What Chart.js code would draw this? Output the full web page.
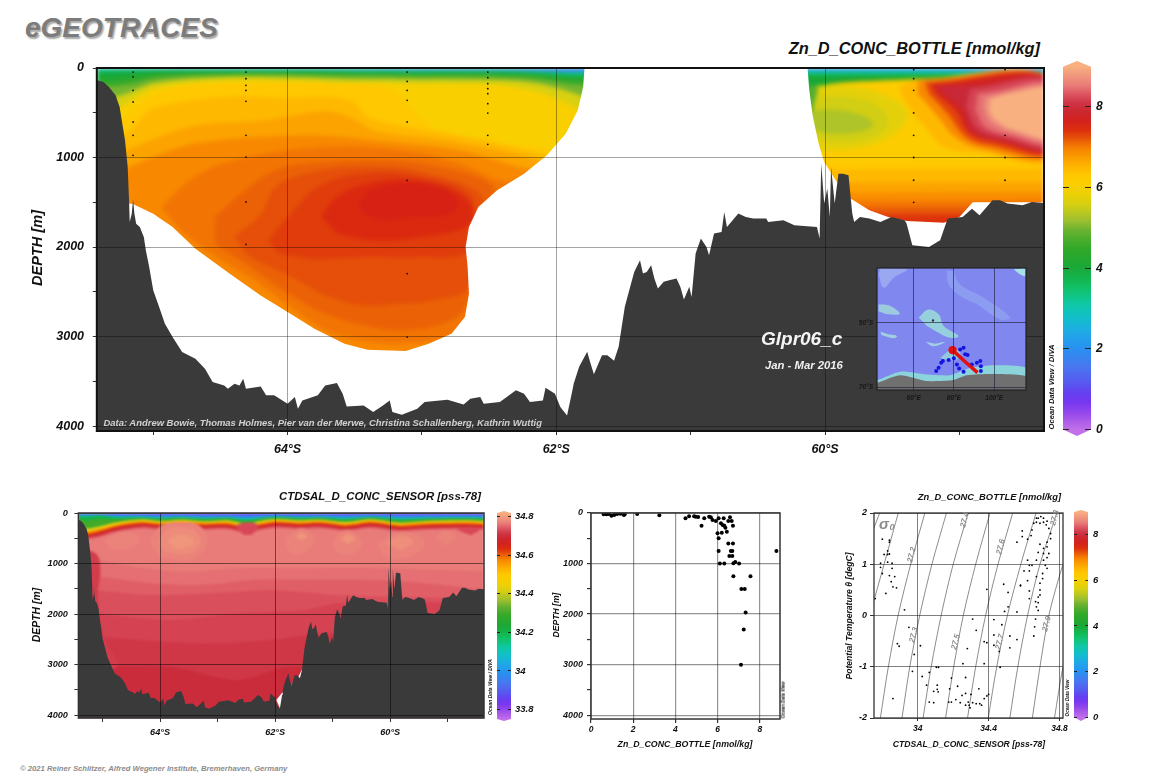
<!DOCTYPE html>
<html>
<head>
<meta charset="utf-8">
<title>eGEOTRACES Zn_D_CONC_BOTTLE</title>
<script src="https://cdn.jsdelivr.net/npm/chart.js@4"></script>
<style>
body { margin: 0; background: #fff; width: 1156px; height: 779px; overflow: hidden; position: relative; font-family: "Liberation Sans", Arial, sans-serif; }
canvas { position: absolute; }
.t { position: absolute; white-space: nowrap; font-weight: bold; font-style: italic; color: #111; line-height: 1; }
</style>
</head>
<body>
<script>
// colour bar stops, in Zn units 0..9
const cmapStops = [0, .25, .58, .83, 1.15, 1.57, 2, 2.4, 2.8, 3.15, 3.55, 4, 4.47, 4.9, 5.2, 5.6, 6, 6.3, 6.5, 6.95, 7.2, 7.5, 8, 8.25, 8.5, 9];
const cmapCols = ['#c070e8', '#a858e8', '#8038f0', '#6838f0', '#5858f0', '#4878f0', '#2890f0', '#20a8e8', '#10c0c8', '#10c8a0', '#10c060', '#18a838', '#30a828', '#60b030', '#a0c030', '#d8d010', '#f8d000', '#ffc800', '#ffb800', '#f88800', '#e85808', '#d82010', '#c82838', '#d84858', '#e87878', '#f8b080'];

// tick lists
const depthTicks = [0, 500, 1000, 1500, 2000, 2500, 3000, 3500, 4000];
const latTicks = [-65, -64, -63, -62, -61, -60, -59];
const znBarTicks = [0, 2, 4, 6, 8];
const salBarTicks = [33.8, 34, 34.2, 34.4, 34.6, 34.8];
const profileTicks = [0, 2, 4, 6, 8];
const tsSalTicks = [34, 34.4, 34.8];
const tsThetaTicks = [-2, -1, 0, 1, 2];
const mapLonTicks = [60, 80, 100];
const mapLatTicks = [-50, -70];

// sea floor along the section [lat, depth]
const bathymetry = [[-65.45,140],[-65.41,140],[-65.37,156],[-65.33,212],[-65.28,305],[-65.25,436],[-65.23,622],[-65.21,808],[-65.19,1106],[-65.18,1479],[-65.175,1721],[-65.16,1628],[-65.15,1467],[-65.14,1628],[-65.127,1739],[-65.1,1777],[-65.07,1888],[-65.055,2037],[-65.03,2223],[-65,2484],[-64.956,2670],[-64.913,2857],[-64.856,3006],[-64.785,3173],[-64.686,3248],[-64.615,3359],[-64.558,3508],[-64.472,3546],[-64.444,3583],[-64.395,3527],[-64.358,3546],[-64.33,3471],[-64.31,3583],[-64.2,3557],[-64.16,3657],[-64.1,3657],[-64,3750],[-63.946,3676],[-63.923,3806],[-63.89,3713],[-63.775,3657],[-63.72,3546],[-63.633,3520],[-63.59,3639],[-63.56,3780],[-63.434,3769],[-63.363,3844],[-63.29,3769],[-63.24,3713],[-63.22,3844],[-63.15,3873],[-63.035,3806],[-62.98,3732],[-62.81,3706],[-62.69,3758],[-62.64,3695],[-62.566,3676],[-62.54,3750],[-62.42,3732],[-62.3,3601],[-62.24,3639],[-62.196,3732],[-62.1,3713],[-62.08,3572],[-62.01,3639],[-61.97,3787],[-61.92,3881],[-61.88,3600],[-61.87,3524],[-61.83,3338],[-61.77,3171],[-61.745,3301],[-61.72,3420],[-61.66,3208],[-61.62,3208],[-61.57,3271],[-61.536,3115],[-61.49,2668],[-61.45,2445],[-61.42,2278],[-61.377,2147],[-61.355,2296],[-61.327,2278],[-61.294,2203],[-61.27,2352],[-61.244,2464],[-61.2,2389],[-61.16,2371],[-61.105,2352],[-61.077,2445],[-61.05,2587],[-61.01,2445],[-60.993,2557],[-60.963,2073],[-60.924,1905],[-60.882,1999],[-60.863,2092],[-60.826,1850],[-60.77,1831],[-60.75,1608],[-60.73,1775],[-60.645,1626],[-60.59,1664],[-60.534,1682],[-60.437,1682],[-60.423,1719],[-60.31,1701],[-60.228,1757],[-60.06,1775],[-60.04,1905],[-60.028,1068],[-60.006,1515],[-59.983,1347],[-59.964,1664],[-59.955,1105],[-59.928,1515],[-59.9,1180],[-59.866,1180],[-59.825,1198],[-59.797,1626],[-59.783,1719],[-59.74,1664],[-59.67,1682],[-59.588,1719],[-59.505,1664],[-59.407,1701],[-59.393,1738],[-59.35,1980],[-59.226,1999],[-59.143,1924],[-59.087,1682],[-58.976,1664],[-58.906,1571],[-58.85,1645],[-58.753,1477],[-58.698,1477],[-58.642,1515],[-58.53,1533],[-58.46,1496],[-58.3,1515]];

// outside of the gridded Zn field (white)
const znMask = [[-65.6,1500],[-65.155,1516],[-65,1628],[-64.856,1776],[-64.686,2019],[-64.43,2298],[-64.2,2540],[-64,2726],[-63.8,2912],[-63.576,3080],[-63.405,3147],[-63.12,3162],[-62.95,3080],[-62.78,2968],[-62.68,2782],[-62.65,2521],[-62.66,2223],[-62.675,2000],[-62.65,1776],[-62.58,1553],[-62.44,1367],[-62.24,1181],[-62.07,976],[-61.93,734],[-61.84,473],[-61.8,212],[-61.79,-5],[-60.13,-5],[-60.117,249],[-60.09,547],[-60.047,845],[-60.006,1049],[-59.92,1254],[-59.81,1459],[-59.67,1589],[-59.53,1664],[-59.39,1708],[-59.115,1730],[-59,1664],[-58.9,1500],[-58.2,1500],[-58.2,4200],[-65.6,4200]];

// Zn levels, left basin: depth of each level along these latitudes
const znLeftLats = [-65.45,-65.28,-65.14,-65,-64.71,-64.43,-64.15,-63.86,-63.58,-63.29,-63.01,-62.72,-62.44,-62.15,-61.87,-61.7];
const znLeftLevels = [2, 3, 3.5, 4, 4.5, 5, 5.6, 6.05];
const znLeftDepths = [
  [0,0,0,0,0,0,0,2,3,5,6,6,6,10,15,15],
  [8,8,8,8,8,10,10,12,14,18,22,20,22,30,45,45],
  [20,20,18,16,16,18,18,20,24,28,32,30,32,42,60,60],
  [50,45,40,32,28,30,30,32,38,42,45,42,45,58,85,85],
  [130,130,100,70,55,55,50,55,60,65,70,65,70,85,125,125],
  [200,200,170,120,85,75,70,75,85,90,95,95,100,120,185,185],
  [320,320,250,170,120,100,100,110,125,125,130,130,135,170,280,400],
  [450,450,340,230,165,140,140,145,165,170,180,180,190,260,430,600]
];
const zn60 = [[-65.45,900],[-65.17,500],[-65,300],[-64.71,190],[-64.43,170],[-63.86,170],[-63.29,200],[-63.15,330],[-63.01,560],[-62.87,690],[-62.44,830],[-62.1,900],[-61.7,1000]];
const zn62 = [[-65.45,1000],[-65.17,700],[-65,450],[-64.43,320],[-64,340],[-63.72,320],[-63.52,370],[-63.4,550],[-63.06,670],[-62.58,800],[-62.15,950],[-61.7,1100]];
const zn64 = [[-65.45,1100],[-65.17,900],[-64.71,650],[-64.15,580],[-63.72,480],[-63.52,560],[-63.35,700],[-62.87,800],[-62.44,920],[-62.15,1020],[-61.7,1200]];
const zn66 = [[-65.45,1300],[-65.17,1100],[-64.71,850],[-63.86,750],[-63.29,820],[-62.72,920],[-62.3,1100],[-61.7,1300]];
const zn68 = [[-64.94,1553],[-64.657,1181],[-64.287,995],[-63.718,883],[-63.15,920],[-62.72,1069],[-62.353,1274],[-62.154,1143],[-62.2,1500],[-62.55,1665],[-62.61,2410],[-62.65,2819],[-62.81,3006],[-63.15,3080],[-63.434,3043],[-63.718,2931],[-63.974,2670],[-64.287,2335],[-64.57,2074],[-64.8,1814]];
const zn70 = [[-64.543,1665],[-64.316,1367],[-64.09,1143],[-63.86,1069],[-63.29,1032],[-62.865,1106],[-62.467,1330],[-62.55,1628],[-62.61,2223],[-62.65,2596],[-62.78,2819],[-63.12,2931],[-63.434,2875],[-63.775,2708],[-64.03,2484],[-64.316,2186],[-64.543,1963]];
const zn72 = [[-64.4,1888],[-64.2,1628],[-64.09,1330],[-63.86,1181],[-63.434,1106],[-62.95,1181],[-62.55,1441],[-62.637,1777],[-62.65,2447],[-62.92,2596],[-63.15,2633],[-63.434,2652],[-63.69,2559],[-63.974,2335],[-64.287,2112]];
const zn74 = [[-64.145,1926],[-63.974,1628],[-63.775,1330],[-63.434,1181],[-63.007,1218],[-62.637,1441],[-62.65,1851],[-62.68,2074],[-63.007,2112],[-63.434,2112],[-63.8,2130],[-64.06,2074]];
const zn76 = [[-63.747,1665],[-63.633,1441],[-63.405,1292],[-63.035,1255],[-62.72,1404],[-62.61,1628],[-62.666,1777],[-63.007,1888],[-63.35,1926],[-63.633,1851]];
const zn78 = [[-63.477,1516],[-63.377,1367],[-63.15,1292],[-62.893,1330],[-62.737,1479],[-62.78,1628],[-63.064,1665],[-63.29,1702],[-63.434,1628]];

// Zn levels, right basin
const znRightSurface = [[2.5,19],[3,33],[3.5,56],[4,78]];
const znRightDeep = [[6.3,1049],[6.5,1143],[6.7,1291],[6.9,1403],[7.05,1496],[7.2,1570],[7.4,1645]];
const zn45r = [[-60.3,250],[-60.117,287],[-60.006,175],[-59.67,119],[-59.115,100],[-58.3,93]];
const zn59r = [[-60.3,230],[-60.09,231],[-59.95,175],[-59.53,138],[-59.254,119],[-58.3,100]];
const zn56p = [[-60.15,212],[-59.894,194],[-59.588,287],[-59.393,473],[-59.45,696],[-59.67,863],[-59.95,919],[-60.06,882],[-60.17,696]];
const zn53p = [[-60.117,324],[-59.866,324],[-59.616,417],[-59.53,603],[-59.644,770],[-59.894,826],[-60.06,770],[-60.13,560]];
const zn50p = [[-60.09,473],[-59.894,473],[-59.7,547],[-59.644,640],[-59.755,715],[-59.95,733],[-60.09,696]];
const zn45p = [[-60.17,212],[-60.06,212],[-60.075,361],[-60.117,547],[-60.2,560]];
const zn62u = [[-59.338,130],[-58.3,108],[-58.3,1012],[-58.837,956],[-59.115,882],[-59.254,659],[-59.393,398],[-59.45,212]];
const zn66u = [[-59.31,138],[-58.3,108],[-58.3,975],[-58.837,901],[-59.03,770],[-59.157,547],[-59.31,287]];
const zn70u = [[-59.254,156],[-58.3,119],[-58.3,938],[-58.78,863],[-58.948,770],[-59.087,510],[-59.226,287]];
const zn74u = [[-59.21,182],[-58.3,127],[-58.3,912],[-58.726,826],[-58.92,733],[-59.03,473],[-59.17,287]];
const zn78u = [[-59.17,205],[-58.865,194],[-58.3,138],[-58.3,889],[-58.7,808],[-58.893,715],[-58.99,435],[-59.115,287]];
const zn81u = [[-58.92,231],[-58.3,156],[-58.3,863],[-58.67,778],[-58.865,677],[-58.948,435]];
const zn84u = [[-58.865,287],[-58.78,268],[-58.3,194],[-58.3,826],[-58.642,752],[-58.81,659],[-58.88,473]];
const zn87u = [[-58.81,324],[-58.3,231],[-58.3,789],[-58.614,715],[-58.767,603],[-58.823,435]];
const zn90u = [[-58.767,342],[-58.642,287],[-58.3,249],[-58.3,763],[-58.587,696],[-58.74,566],[-58.78,454]];

// bottle sample positions of the main section
const stationLats = [-65.15, -64.31, -63.11, -62.51, -59.34, -58.66];
const stationDepths = [
  [45,100,250,380,603,752,976],
  [45,120,194,250,372,752,995,1497,1970],
  [45,150,250,361,603,1255,2298,3006],
  [45,108,175,231,287,398,503,752,853],
  [19,119,249,502,752,1000,1254,1500],
  [19,752,1000,1254]
];

// salinity section
const salWaveLats = [-65.45,-65.29,-65.06,-64.76,-64.32,-64,-63.62,-63.24,-62.83,-62.5,-62.24,-61.98,-61.6,-61.21,-60.77,-60.33,-59.84,-59.37,-58.66,-58.3];
const salWaveLevels = [33.9, 34, 34.1, 34.2, 34.3, 34.4, 34.5, 34.6, 34.68, 34.74, 34.765];
const salWaveDepths = [
  [12,12,12,12,12,12,12,12,12,12,12,12,12,12,12,12,12,12,12,12],
  [30,30,28,45,45,55,50,60,55,70,55,48,55,50,60,50,65,60,55,60],
  [40,45,35,65,65,80,70,85,78,100,80,65,80,72,90,70,95,85,78,85],
  [50,70,50,85,85,100,88,105,95,130,100,80,95,88,115,85,120,105,95,105],
  [100,150,120,125,105,125,105,130,115,165,120,95,115,105,140,100,150,125,115,130],
  [198,298,264,185,126,159,132,165,145,212,152,119,145,132,179,126,192,159,145,165],
  [240,340,295,210,150,180,150,185,170,240,175,140,165,150,200,145,210,180,165,185],
  [280,380,330,240,175,205,175,205,195,270,205,165,190,175,225,170,235,205,190,210],
  [330,430,380,280,215,245,215,245,235,310,245,205,230,215,265,210,275,245,230,250],
  [390,480,440,340,265,295,265,295,285,360,295,255,280,265,315,260,325,295,280,300],
  [430,520,480,380,305,335,305,335,325,400,335,295,320,305,355,300,365,335,320,340]
];
const sal755 = [[-65.45,900],[-65.11,926],[-64.41,1071],[-63.53,1157],[-62.65,1091],[-61.48,1091],[-60.3,1091],[-58.3,1157]];
const sal745 = [[-65.45,1230],[-65.11,1256],[-64.12,1388],[-63.24,1421],[-62.36,1322],[-61.48,1322],[-60.6,1322],[-59.72,1355],[-58.3,1521]];
const sal735 = [[-65.45,1500],[-65.17,1521],[-64.12,1620],[-63.12,1587],[-62.06,1521],[-60.89,1620],[-60.01,1653],[-58.3,1700]];
const sal725 = [[-65.45,1950],[-65.17,1983],[-63.82,2116],[-62.65,1983],[-61.48,1917],[-60.89,1785],[-58.3,1785]];
const sal715 = [[-65.45,2400],[-65.11,2446],[-63.24,2579],[-62.06,2512],[-61.18,2380],[-58.3,2380]];
const sal705 = [[-65.45,3041],[-65,3041],[-63.82,3041],[-62.65,3306],[-61.77,3041],[-58.3,3041]];
const salSlope = [[-65.5,700],[-65.12,800],[-65.04,1100],[-65.08,1653],[-64.98,2446],[-64.76,3041],[-65.5,3306]];
const salSpots = [[34.73,[[-62.7,250],[-62.5,190],[-62.3,240],[-62.4,420],[-62.55,430]]],[34.73,[[-58.85,330],[-58.6,270],[-58.45,330],[-58.6,440]]]];
const salPatches = [
  [34.772,[[-64.18,562],[-64,264],[-63.65,185],[-63.3,264],[-63.18,562],[-63.35,860],[-63.65,939],[-64,860]]],
  [34.782,[[-64.03,562],[-63.88,330],[-63.65,284],[-63.38,364],[-63.3,595],[-63.47,780],[-63.7,807],[-63.94,740]]],
  [34.792,[[-63.88,562],[-63.68,430],[-63.44,496],[-63.44,628],[-63.68,727]]],
  [34.772,[[-64.97,529],[-64.65,364],[-64.41,430],[-64.38,595],[-64.65,727],[-64.88,694]]],
  [34.772,[[-61.83,529],[-61.57,298],[-61.33,463],[-61.39,694],[-61.6,826],[-61.77,760]]],
  [34.79,[[-61.65,463],[-61.55,383],[-61.45,463],[-61.55,542]]],
  [34.772,[[-61.01,562],[-60.77,330],[-60.54,463],[-60.51,661],[-60.74,826],[-60.95,760]]],
  [34.79,[[-60.86,516],[-60.74,417],[-60.61,516],[-60.74,615]]],
  [34.772,[[-60.22,595],[-59.84,364],[-59.45,496],[-59.43,694],[-59.81,912],[-60.13,826]]],
  [34.785,[[-60.07,595],[-59.84,450],[-59.6,562],[-59.81,740]]],
  [34.772,[[-59.22,496],[-59.04,330],[-58.87,463],[-59.01,648]]]
];
const salGaps = [[[-61.98,3700],[-61.86,3530],[-61.88,3950]],[[-61.72,3420],[-61.68,3300],[-61.66,3400]],[[-61.6,3250],[-61.52,3060],[-61.53,3280]]];

// Zn against depth
const profileZn = [.6,.73,.84,.97,1.1,1.24,1.4,1.56,1.6,2.19,3.24,4.48,4.65,4.89,4.97,5.08,5.24,5.37,5.6,5.68,5.76,5.92,6.05,6.29,6.59,6.51,6.67,6.73,6.16,6.24,6.32,6.37,6.44,6.2,6,6.05,6.51,6.73,6.05,6.63,6.7,8.79,6.56,6.7,6.11,6.32,6.75,6.84,7.02,6.75,7.56,7.13,7.29,7.33,7.24,7.11];
const profileDepth = [26,26,20,53,40,20,13,40,26,20,46,105,66,66,72,79,250,105,72,86,138,158,105,105,86,158,158,250,204,237,250,290,369,389,402,500,606,606,751,751,751,751,850,850,1000,1000,995,968,1000,1252,1252,1502,1502,1970,2306,3004];

// potential temperature against salinity
const tsSal = [33.8,33.84,33.84,33.83,33.83,33.81,33.84,33.79,33.855,33.83,33.79,33.855,33.8,33.84,33.87,33.85,33.86,33.88,33.82,33.76,33.925,33.95,33.885,33.895,34.015,33.98,33.97,34.025,34.05,34.065,34.105,34.117,34.11,34.11,34.09,34.115,34.065,34.09,33.86,34.19,34.18,34.175,34.19,34.215,34.225,34.27,34.25,34.24,34.27,34.27,34.285,34.3,34.29,34.295,34.31,34.33,34.345,34.35,34.36,34.375,34.39,34.4,34.375,34.255,34.28,34.33,34.31,34.375,34.39,34.39,34.43,34.43,34.43,34.46,34.465,34.52,34.52,34.56,34.475,34.485,34.49,34.51,34.51,34.56,34.58,34.58,34.56,34.59,34.59,34.62,34.64,34.645,34.62,34.63,34.645,34.6,34.63,34.62,34.63,34.63,34.655,34.67,34.68,34.695,34.71,34.73,34.67,34.69,34.71,34.725,34.74,34.75,34.75,34.73,34.69,34.71,34.73,34.68,34.71,34.74,34.67,34.71,34.73,34.72,34.73,34.705,34.67,34.705,34.69,34.69,34.68,34.69,34.665,34.68,34.67,34.68,34.665,34.66,34.655];
const tsTheta = [1.49,1.47,1.43,1.26,1.19,1.19,1.2,1.02,1.02,1.04,.94,.92,.82,.78,.76,.66,.56,.54,.43,.33,.11,-.23,-.55,-.6,-.59,-.76,-1.09,-1.19,-1.36,-1.11,-1.01,-1.01,-1.36,-1.44,-1.48,-1.49,-1.69,-1.7,-1.62,-1.22,-1.43,-1.69,-1.69,-1.64,-1.38,-1.21,-1.56,-1.7,-1.75,-1.52,-1.69,-1.54,-1.75,-1.8,-1.7,-1.72,-1.43,-1.72,-1.75,-1.62,-1.57,-1.54,-.94,-.94,-.645,-.29,-.07,-.51,-.53,.51,-.08,-.38,-.58,-.7,-1.01,-.4,-.63,-.47,-.18,.61,.08,.17,.45,.07,.58,.59,1.43,1.65,1.54,1.49,1.56,1.67,1.08,.98,.98,.87,.87,.68,.48,.33,1.8,1.9,1.9,1.93,1.9,1.84,1.82,1.8,1.82,1.77,1.7,1.6,1.5,1.43,1.39,1.31,1.34,1.23,1.21,1.21,1.08,1.08,1.13,.98,.92,.82,.76,.72,.63,.5,.36,.4,.27,.25,.17,.1,-.07,-.22,-.4];

// density isolines: salinity where each crosses these temperatures
const isoTheta = [-2, -1, 0, 1, 2];
const iso272 = [33.789, 33.834, 33.889, 33.96, 34.04];
const iso273 = [33.911, 33.955, 34.011, 34.08, 34.162];
const iso274 = [34.03, 34.076, 34.132, 34.2, 34.285];
const iso275 = [34.157, 34.203, 34.257, 34.327, 34.408];
const iso276 = [34.281, 34.327, 34.383, 34.453, 34.536];
const iso277 = [34.398, 34.446, 34.506, 34.582, 34.668];
const iso278 = [34.52, 34.565, 34.62, 34.69, 34.785];
const iso279 = [34.647, 34.69, 34.74, 34.82, 34.92];
const iso280 = [34.772, 34.82, 34.89, 34.97, 35.05];
const iso271 = [[33.7, -.3], [33.753, .3], [33.83, 1.25], [33.89, 2]];
const iso270 = [[33.74, 1.6], [33.785, 2]];

// map inset [lon, lat]
const mapOcean = [[41,-32],[117,-32],[117,-72],[41,-72]];
const mapRidgeNW = [[42.6,-35],[45.1,-39.1],[50.1,-36],[56.7,-33.4],[43.5,-33.1]];
const mapRidgeMid = [[76.5,-33.9],[77.4,-38.1],[83.1,-41.7],[91.4,-44.3],[103,-49],[107.9,-48.4],[94.7,-42.2],[83.1,-38.1],[79.8,-33.9]];
const mapCornerNE = [[109.6,-33.4],[115.7,-33.1],[115.7,-35.5],[112.9,-35]];
const mapBlobW = [[42.6,-44.3],[48.4,-44.8],[53.1,-47.2],[47.6,-47.4],[42.6,-46.4]];
const mapBlobSW = [[43.5,-52.8],[47.6,-53.6],[51.7,-54.1],[50,-54.8],[44,-53.8]];
const mapKerguelen = [[62.5,-48.4],[67.4,-45.9],[72.4,-47.4],[74.9,-51],[82.3,-54.1],[78.2,-54.7],[72.4,-53.1],[66.6,-51]];
const mapCrescent = [[65.8,-55.9],[69.9,-57.3],[75.7,-55.9],[70.7,-56.5]];
const mapPatch = [[73.2,-60.9],[79,-58.3],[83.1,-59.3],[81.5,-61.4],[75.7,-61.4]];
const mapShelf = [[41.8,-67.9],[53.4,-65.2],[66.6,-66.1],[78.2,-66.3],[88.1,-64],[99.7,-63.2],[115.7,-64],[115.7,-70.9],[41.8,-70.9]];
const mapLand = [[41.8,-68.7],[53.4,-66.3],[66.6,-68.1],[79,-67.9],[86.4,-66.3],[99.7,-65.9],[115.7,-66.6],[115.7,-70.9],[41.8,-70.9]];
const mapStations = [[71.2,-65],[72.4,-64],[73.7,-62.4],[74.5,-61.9],[77.4,-61.6],[80,-61],[81.5,-63],[82.6,-64.2],[84.8,-65.2],[83.1,-58.3],[84.8,-57.8],[85.6,-59.8],[86.8,-60],[88.9,-63],[91.4,-62.4],[93.1,-61.9],[93.4,-63.5],[93.4,-65]];
const mapTrack = [[79.3,-58.5],[85.6,-62.1],[91.7,-65.5]];

const hexToRgb = h => [1, 3, 5].map(i => parseInt(h.substr(i, 2), 16));
function znCol(v) {
  v = Math.min(9, Math.max(0, v));
  let i = 0;
  while (i < cmapStops.length - 2 && v > cmapStops[i + 1]) i++;
  const f = (v - cmapStops[i]) / (cmapStops[i + 1] - cmapStops[i]);
  const a = hexToRgb(cmapCols[i]), b = hexToRgb(cmapCols[i + 1]);
  return `rgb(${a.map((c, k) => Math.round(c + (b[k] - c) * f)).join(',')})`;
}
const salCol = s => znCol((s - 33.75) / 1.07 * 9);

const xy = pts => pts.map(p => ({ x: p[0], y: p[1] }));
const zip = (xs, ys) => xs.map((x, i) => ({ x, y: ys[i] }));
// closed filled shape
const poly = (pts, color, tension = 0.4) => ({ data: xy(pts), showLine: true, fill: 'shape', backgroundColor: color, borderWidth: 0, pointRadius: 0, tension });
// area from a curve down to the bottom of the section
const below = (data, color, tension = 0.3) => ({ data, showLine: true, fill: { value: 4200 }, backgroundColor: color, borderWidth: 0, pointRadius: 0, tension });
const lineDs = (data, color, width, tension = 0) => ({ data, showLine: true, fill: false, borderColor: color, borderWidth: width, pointRadius: 0, tension });
const dots = (data, color, r) => ({ data, backgroundColor: color, borderWidth: 0, pointRadius: r });

const font = size => ({ family: '"Liberation Sans", Arial, sans-serif', size, style: 'italic', weight: 'bold' });
const clear = 'rgba(0,0,0,0)';

const frame = {
  id: 'frame',
  afterDraw(chart, args, opts) {
    if (!opts.width) return;
    const { left, top, right, bottom } = chart.chartArea;
    const ctx = chart.ctx;
    ctx.save();
    ctx.strokeStyle = opts.color;
    ctx.lineWidth = opts.width;
    ctx.strokeRect(left, top, right - left, bottom - top);
    ctx.restore();
  }
};

function addChart(box, margin, datasets, scales, frameOpts) {
  const [l, t, r, b] = box;
  const canvas = document.createElement('canvas');
  const w = Math.round(margin.l + r - l + margin.r), h = Math.round(margin.t + b - t + margin.b);
  canvas.width = w; canvas.height = h;
  canvas.style.left = (l - margin.l) + 'px';
  canvas.style.top = (t - margin.t) + 'px';
  canvas.style.width = w + 'px';
  canvas.style.height = h + 'px';
  document.body.appendChild(canvas);
  const chart = new Chart(canvas, {
    type: 'scatter',
    // the first dataset is painted last by Chart.js, so turn the list round
    data: { datasets: datasets.slice().reverse() },
    options: {
      responsive: false, animation: false, events: [],
      layout: { padding: margin.pad },
      plugins: { legend: { display: false }, tooltip: { enabled: false }, frame: frameOpts || { width: 2, color: '#111' } },
      scales
    },
    plugins: [frame]
  });
  return chart;
}

// soft colour layer, kept inside the plot frame
function soften(chart, margin, px) {
  chart.canvas.style.filter = `blur(${px}px)`;
  chart.canvas.style.clipPath = `inset(${margin.t}px ${margin.r}px ${margin.b}px ${margin.l}px)`;
}

function axis(min, max, tickList, o) {
  return {
    type: 'linear', min, max, reverse: !!o.reverse, position: o.position,
    afterBuildTicks: s => { s.ticks = tickList.map(value => ({ value })); },
    afterFit: s => {
      if (o.fit != null) { if (s.isHorizontal()) s.height = o.fit; else s.width = o.fit; }
      s.paddingTop = s.paddingBottom = s.paddingLeft = s.paddingRight = 0;
    },
    border: { display: false },
    grid: {
      z: 1, drawTicks: true, tickLength: o.tickLength ?? 4, lineWidth: o.gridWidth ?? 1,
      color: c => (o.hidden || !o.major(c.tick.value) ? clear : o.gridColor),
      tickColor: o.hidden ? clear : (o.tickColor || '#333')
    },
    ticks: {
      autoSkip: false, maxRotation: 0, minRotation: 0, padding: o.padding ?? 3, color: o.hidden ? clear : (o.color || '#111'), font: font(o.size),
      callback: v => (o.major(v) ? o.label(v) : '')
    }
  };
}

function sectionScales(ml, mb, size, gridColor, xPad, hidden) {
  return {
    x: axis(-65.42, -58.37, latTicks, { hidden, fit: mb, size, gridColor, major: v => v % 2 === 0, label: v => Math.abs(v) + '°S', padding: xPad }),
    y: axis(0, 4055, depthTicks, { hidden, reverse: true, fit: ml, size, gridColor, major: v => v % 1000 === 0, label: v => String(v), padding: size * 0.7 })
  };
}

const whole = [[-66, -10], [-58, -10], [-58, 4200], [-66, 4200]];
const rightBasin = [[-61, -10], [-58, -10], [-58, 4200], [-61, 4200]];
const mainBox = [96.8, 67.5, 1043.8, 430.5];
const mainMargin = { l: 96.8, t: 10, r: 12, b: 30, pad: { top: 10, right: 12 } };

// ---- main section: colour field on its own softened layer ----
const fieldSets = [poly(whole, znCol(1.2), 0)];
znLeftLevels.forEach((v, i) => fieldSets.push(below(zip(znLeftLats, znLeftDepths[i]), znCol(v))));
[[6.3, zn60], [6.5, zn62], [6.7, zn64], [6.95, zn66]].forEach(([v, c]) => fieldSets.push(below(xy(c), znCol(v))));
[[7.05, zn68], [7.15, zn70], [7.25, zn72], [7.35, zn74], [7.45, zn76], [7.55, zn78]].forEach(([v, c]) => fieldSets.push(poly(c, znCol(v))));
fieldSets.push(poly(rightBasin, znCol(1.8), 0));
znRightSurface.forEach(([v, d]) => fieldSets.push(below(xy([[-61, d], [-58, d]]), znCol(v), 0)));
fieldSets.push(below(xy(zn45r), znCol(4.5)));
fieldSets.push(below(xy(zn59r), znCol(6.15)));
[[5.75, zn56p], [5.55, zn53p], [5.3, zn50p], [4.8, zn45p]].forEach(([v, c]) => fieldSets.push(poly(c, znCol(v))));
znRightDeep.forEach(([v, d]) => fieldSets.push(below(xy([[-61, d], [-58, d - 20]]), znCol(v), 0)));
[[6.5, zn62u], [6.95, zn66u], [7.3, zn70u], [7.7, zn74u], [8, zn78u], [8.2, zn81u], [8.45, zn84u], [8.7, zn87u], [9, zn90u]].forEach(([v, c]) => fieldSets.push(poly(c, znCol(v))));
soften(addChart(mainBox, mainMargin, fieldSets, sectionScales(96.8, 30, 12.5, clear, 7.5, true), { width: 0 }), mainMargin, 2);

const mainSets = [poly(znMask, '#fff', 0), below(xy(bathymetry), '#3a3a3a', 0)];
stationLats.forEach((lat, i) => mainSets.push(dots(stationDepths[i].map(d => ({ x: lat, y: d })), '#111', 0.9)));
addChart(mainBox, mainMargin, mainSets, sectionScales(96.8, 30, 12.5, 'rgba(0,0,0,.36)', 7.5));

// ---- colour bars ----
function colorBar(box, marginR, lo, hi, shoulderLo, shoulderHi, ticks, size, colFn, dash, tickPad) {
  const shape = [[0, shoulderLo], [0, shoulderHi], [0.5, hi], [1, shoulderHi], [1, shoulderLo], [0.5, lo]];
  const ds = {
    data: xy(shape), showLine: true, fill: 'shape', borderWidth: 0, pointRadius: 0,
    backgroundColor(c) {
      const y = c.chart.scales.y;
      const y0 = y ? y.getPixelForValue(shoulderLo) : NaN, y1 = y ? y.getPixelForValue(shoulderHi) : NaN;
      if (!isFinite(y0) || !isFinite(y1)) return '#888';
      const g = c.chart.ctx.createLinearGradient(0, y0, 0, y1);
      for (let i = 0; i <= 40; i++) {
        const f = i / 40;
        g.addColorStop(f, colFn(shoulderLo + (shoulderHi - shoulderLo) * f));
      }
      return g;
    }
  };
  const yAx = axis(lo, hi, ticks, { position: 'right', fit: marginR, size, gridColor: '#222', major: () => true, label: v => String(v), padding: tickPad, tickLength: 0 });
  yAx.grid.drawTicks = false;
  yAx.border = { display: false, dash };
  const chart = addChart(box, { l: 4, t: 4, r: marginR, b: 4, pad: { left: 4, top: 4, bottom: 4 } }, [ds], {
    x: { type: 'linear', min: 0, max: 1, display: false },
    y: yAx
  }, { width: 0 });
  chart.update();
  return chart;
}
colorBar([1062.5, 61.4, 1090.5, 436.1], 24, -0.16, 9.14, 0, 9, znBarTicks, 12, znCol, [6, 16, 6, 0], 5);
colorBar([497, 510.7, 511, 720.7], 30, 33.74, 34.83, 33.75, 34.82, salBarTicks, 9.5, salCol, [3, 8, 3, 0], 4);
colorBar([1074.3, 510.2, 1088.7, 721.6], 22, -0.17, 9.09, 0, 9, znBarTicks, 9.5, znCol, [3, 8.4, 3, 0], 5);

// ---- salinity section ----
const salBox = [78.4, 513.3, 484, 718];
const salMargin = { l: 78.4, t: 10, r: 8, b: 24, pad: { top: 10, right: 8 } };
const salField = [poly(whole, salCol(33.78), 0)];
salWaveLevels.forEach((s, i) => salField.push(below(zip(salWaveLats, salWaveDepths[i]), salCol(s))));
[[34.755, sal755], [34.745, sal745], [34.735, sal735], [34.725, sal725], [34.715, sal715], [34.705, sal705]].forEach(([s, c]) => salField.push(below(xy(c), salCol(s))));
salField.push(poly(salSlope, salCol(34.72)));
salSpots.forEach(([s, c]) => salField.push(poly(c, salCol(s))));
salPatches.forEach(([s, c]) => salField.push(poly(c, salCol(s))));
soften(addChart(salBox, salMargin, salField, sectionScales(78.4, 24, 9.2, clear, 5, true), { width: 0 }), salMargin, 1.2);
const salTop = salGaps.map(c => poly(c, '#fff', 0));
salTop.push(below(xy(bathymetry), '#3a3a3a', 0));
addChart(salBox, salMargin, salTop, sectionScales(78.4, 24, 9.2, 'rgba(0,0,0,.5)', 5), { width: 1.5, color: '#333' });

// ---- Zn profile ----
addChart([590.7, 513, 779.3, 719.3], { l: 40, t: 10, r: 10, b: 20, pad: { top: 10, right: 10 } }, [dots(zip(profileZn, profileDepth), '#000', 2)], {
  x: axis(0, 8.96, profileTicks, { fit: 20, size: 8.5, gridColor: 'rgba(0,0,0,.42)', major: () => true, label: v => String(v), padding: 2, gridWidth: 1.2 }),
  y: axis(0, 4077, depthTicks, { reverse: true, fit: 40, size: 9, gridColor: 'rgba(0,0,0,.42)', major: v => v % 1000 === 0, label: v => String(v), padding: 4, gridWidth: 1.2 })
}, { width: 1.5, color: '#333' });

// ---- T/S diagram ----
const isoSets = [iso272, iso273, iso274, iso275, iso276, iso277, iso278, iso279, iso280].map(s => lineDs(zip(s, isoTheta), '#8c8c8c', 1, 0.3));
isoSets.push(lineDs(xy(iso271), '#8c8c8c', 1, 0.3), lineDs(xy(iso270), '#8c8c8c', 1, 0));
addChart([874.3, 513.3, 1063.3, 718.3], { l: 30, t: 10, r: 10, b: 20, pad: { top: 10, right: 10 } },
  isoSets.concat([dots(zip(tsSal, tsTheta), '#000', 0.9)]), {
    x: axis(33.753, 34.82, tsSalTicks, { fit: 20, size: 8.5, gridColor: 'rgba(0,0,0,.5)', major: () => true, label: v => String(v), padding: 3, tickLength: 3 }),
    y: axis(-2, 2, tsThetaTicks, { fit: 30, size: 9, gridColor: 'rgba(0,0,0,.5)', major: () => true, label: v => String(v), padding: 3 })
  }, { width: 1.3, color: '#333' });

// ---- map inset ----
const mapSets = [
  poly(mapOcean, '#8088f0', 0),
  poly(mapRidgeNW, '#9aa8f2'),
  poly(mapRidgeMid, '#8c9cf0'),
  poly(mapCornerNE, '#a8e0e8'),
  poly(mapBlobW, '#9ccbe0'),
  poly(mapBlobSW, '#a0cfe0'),
  poly(mapKerguelen, '#96d0dc'),
  poly(mapCrescent, '#a0d0e0'),
  poly(mapPatch, '#90c8e0'),
  poly(mapShelf, '#8cd4dc', 0.2),
  poly(mapLand, '#707070', 0.2),
  dots([{ x: 69.6, y: -49.3 }], '#333', 1.2),
  dots(xy(mapStations), '#1414e0', 2),
  lineDs(xy(mapTrack), '#e01010', 3.5),
  dots([{ x: 79.3, y: -58.5 }], '#e01010', 4.2)
];
addChart([876.7, 268.3, 1025.7, 390.7], { l: 24, t: 6, r: 8, b: 14, pad: { top: 6, right: 8 } }, mapSets, {
  x: axis(41.8, 115.8, mapLonTicks, { fit: 14, size: 6.5, gridColor: 'rgba(30,30,60,.65)', major: () => true, label: v => v + '°E', padding: 2, tickLength: 2, color: '#161616' }),
  y: axis(-70.9, -33, mapLatTicks, { fit: 24, size: 6.5, gridColor: 'rgba(30,30,60,.65)', major: () => true, label: v => Math.abs(v) + '°S', padding: 2, tickLength: 2, color: '#161616' })
}, { width: 1.2, color: '#222' }).canvas.style.filter = 'blur(.4px)';

// ---- texts ----
function addText(text, x, y, size, o = {}) {
  const el = document.createElement('div');
  el.className = 't';
  el.textContent = text;
  el.style.left = x + 'px';
  el.style.top = y + 'px';
  el.style.fontSize = size + 'px';
  const shift = { l: '0', c: '-50%', r: '-100%' }[o.anchor || 'c'];
  el.style.transform = `translate(${shift},-50%)` + (o.rot ? ` rotate(${o.rot}deg)` : '');
  if (o.color) el.style.color = o.color;
  if (o.shadow) el.style.textShadow = o.shadow;
  document.body.appendChild(el);
  return el;
}
addText('eGEOTRACES', 25, 28, 28, { anchor: 'l', color: '#7c7c7c', shadow: '1.5px 1.5px 1.5px #a8a8a8' });
addText('Zn_D_CONC_BOTTLE [nmol/kg]', 1040, 48, 16.4, { anchor: 'r' });
addText('DEPTH [m]', 37, 248, 14.6, { rot: -90 });
addText('Data: Andrew Bowie, Thomas Holmes, Pier van der Merwe, Christina Schallenberg, Kathrin Wuttig', 103.5, 422.5, 9.45, { anchor: 'l', color: '#d0d0d0' });
addText('Glpr06_c', 761, 338, 19, { anchor: 'l', color: '#f4f4f4' });
addText('Jan - Mar 2016', 765, 365.5, 11.3, { anchor: 'l', color: '#f0f0f0' });
addText('Ocean Data View / DIVA', 1052, 387, 7.6, { rot: -90 });
addText('CTDSAL_D_CONC_SENSOR [pss-78]', 481, 497, 11.4, { anchor: 'r' });
addText('DEPTH [m]', 37, 615, 10.4, { rot: -90 });
addText('Ocean Data View / DIVA', 489.5, 687, 5, { rot: -90 });
addText('DEPTH [m]', 556, 615, 8.6, { rot: -90 });
addText('Zn_D_CONC_BOTTLE [nmol/kg]', 685, 744, 8.8);
addText('Ocean Data View', 784, 700, 4.6, { rot: -90 });
addText('Zn_D_CONC_BOTTLE [nmol/kg]', 989.5, 498, 9.35);
addText('Potential Temperature θ [degC]', 849, 616, 8.6, { rot: -90 });
addText('CTDSAL_D_CONC_SENSOR [pss-78]', 969, 744, 8.6);
addText('Ocean Data View', 1068, 698, 4.6, { rot: -90 });
addText('© 2021 Reiner Schlitzer, Alfred Wegener Institute, Bremerhaven, Germany', 20, 769, 7.67, { anchor: 'l', color: '#8c8c8c' });
// density labels of the T/S diagram
[['27.2', 912, 555], ['27.3', 914, 635], ['27.4', 965, 520], ['27.5', 956, 642], ['27.6', 1001, 547], ['27.7', 1000, 642], ['27.8', 1055, 518], ['27.9', 1047, 624]].forEach(([s, x, y]) => addText(s, x, y, 8, { rot: -75, color: '#8c8c8c' }));
addText('σ', 884, 523, 15, { color: '#8c8c8c' });
addText('0', 892, 527, 9, { color: '#8c8c8c' });
</script>
</body>
</html>
